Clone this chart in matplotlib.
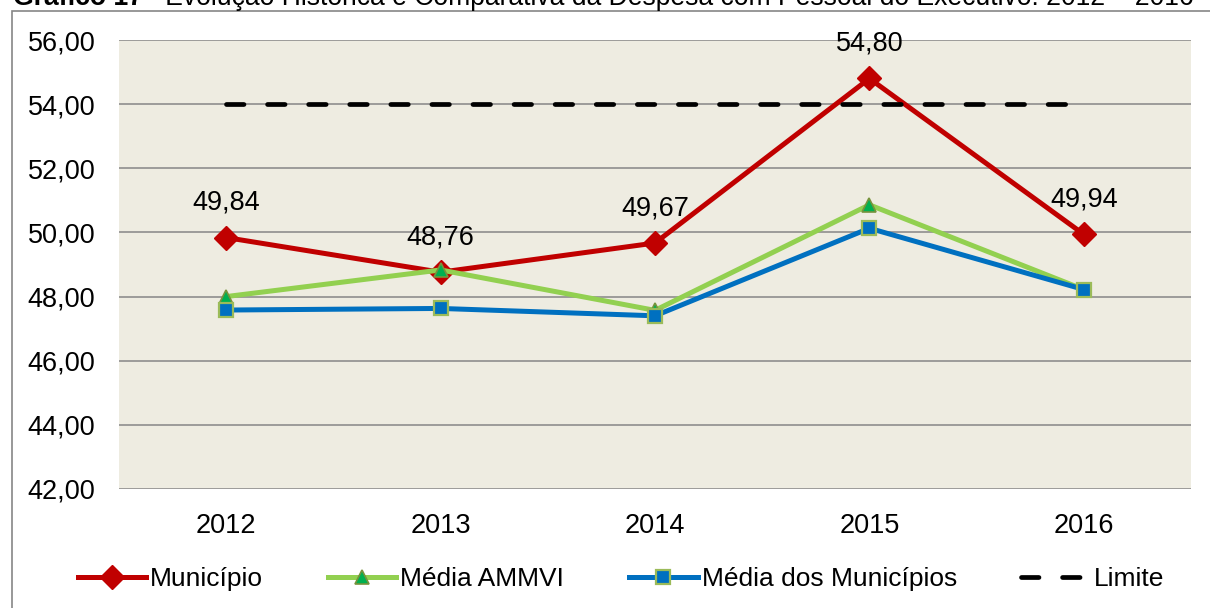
import matplotlib.pyplot as plt
from matplotlib.lines import Line2D
from matplotlib.patches import Rectangle
from matplotlib.ticker import FuncFormatter

plt.rcParams['font.family'] = ['Liberation Sans', 'DejaVu Sans']

anos = ['2012', '2013', '2014', '2015', '2016']
municipio = [49.84, 48.76, 49.67, 54.80, 49.94]
media_ammvi = [48.00, 48.83, 47.57, 50.86, 48.22]
media_municipios = [47.58, 47.63, 47.40, 50.13, 48.22]
limite = [54.00, 54.00, 54.00, 54.00, 54.00]

titulo_bold = 'Gráfico 17'
titulo = '– Evolução Histórica e Comparativa da Despesa com Pessoal do Executivo: 2012 – 2016'

FS = 19.5
W, H = 1210, 608
fig = plt.figure(figsize=(W / 100, H / 100), dpi=100)
ax = fig.add_axes([119 / W, 1 - 489 / H, (1191 - 119) / W, (489 - 40) / H])
ax.set_facecolor('#EEECE1')

x = list(range(len(anos)))

estilo_mun = dict(color='#C00000', lw=3.6, marker='D', markersize=12,
                  markerfacecolor='#C00000', markeredgecolor='#C00000')
estilo_ammvi = dict(color='#92D050', lw=3.6, marker='^', markersize=10,
                    markerfacecolor='#00B050', markeredgecolor='#77933C', markeredgewidth=1.2)
estilo_media = dict(color='#0070C0', lw=3.6, marker='s', markersize=10,
                    markerfacecolor='#0070C0', markeredgecolor='#9BBB59', markeredgewidth=1.6)
estilo_lim = dict(color='black', lw=3.4, dashes=(3.7, 5.0), dash_capstyle='round')

ax.plot(x, municipio, zorder=3, **estilo_mun)
ax.plot(x, media_ammvi, zorder=4, **estilo_ammvi)
ax.plot(x, media_municipios, zorder=5, **estilo_media)
ax.plot(x, limite, zorder=6, **estilo_lim)

for xi, v in zip(x, municipio):
    ax.annotate(f'{v:.2f}'.replace('.', ','), (xi, v), xytext=(0, 25),
                textcoords='offset points', ha='center', va='center', fontsize=FS, zorder=7)

ax.set_xlim(-0.5, 4.5)
ax.set_ylim(42, 56)
ax.set_yticks(range(42, 57, 2))
ax.yaxis.set_major_formatter(FuncFormatter(lambda v, p: f'{v:.2f}'.replace('.', ',')))
ax.set_xticks(x)
ax.set_xticklabels(anos)
ax.tick_params(axis='both', length=0, labelsize=FS)
ax.tick_params(axis='y', pad=17)
ax.tick_params(axis='x', pad=17)
ax.grid(axis='y', color='#868686', lw=1.1, zorder=0)
ax.set_axisbelow(True)
for s in ax.spines.values():
    s.set_visible(False)

# moldura do gráfico
fig.patches.append(Rectangle((12 / W, -0.1), 1.2, 1.1 - 11 / H, transform=fig.transFigure,
                             fill=False, edgecolor='#868686', lw=1.2))

# título (cortado no topo, como no original)
fig.text(13 / W, 1 - 5 / H, titulo_bold, fontsize=19.2, fontweight='bold', va='baseline')
fig.text(143 / W, 1 - 5 / H, titulo, fontsize=19.1, va='baseline')

handles = [Line2D([], [], **estilo_mun), Line2D([], [], **estilo_ammvi),
           Line2D([], [], **estilo_media), Line2D([], [], **estilo_lim)]
labels = ['Município', 'Média AMMVI', 'Média dos Municípios', 'Limite']
fig.legend(handles, labels, loc='center', bbox_to_anchor=(621 / W, 1 - 579 / H), ncol=4,
           frameon=False, fontsize=19, handlelength=2.6, handletextpad=0.15,
           columnspacing=2.45, borderaxespad=0)

fig.savefig('out.png', dpi=100)
